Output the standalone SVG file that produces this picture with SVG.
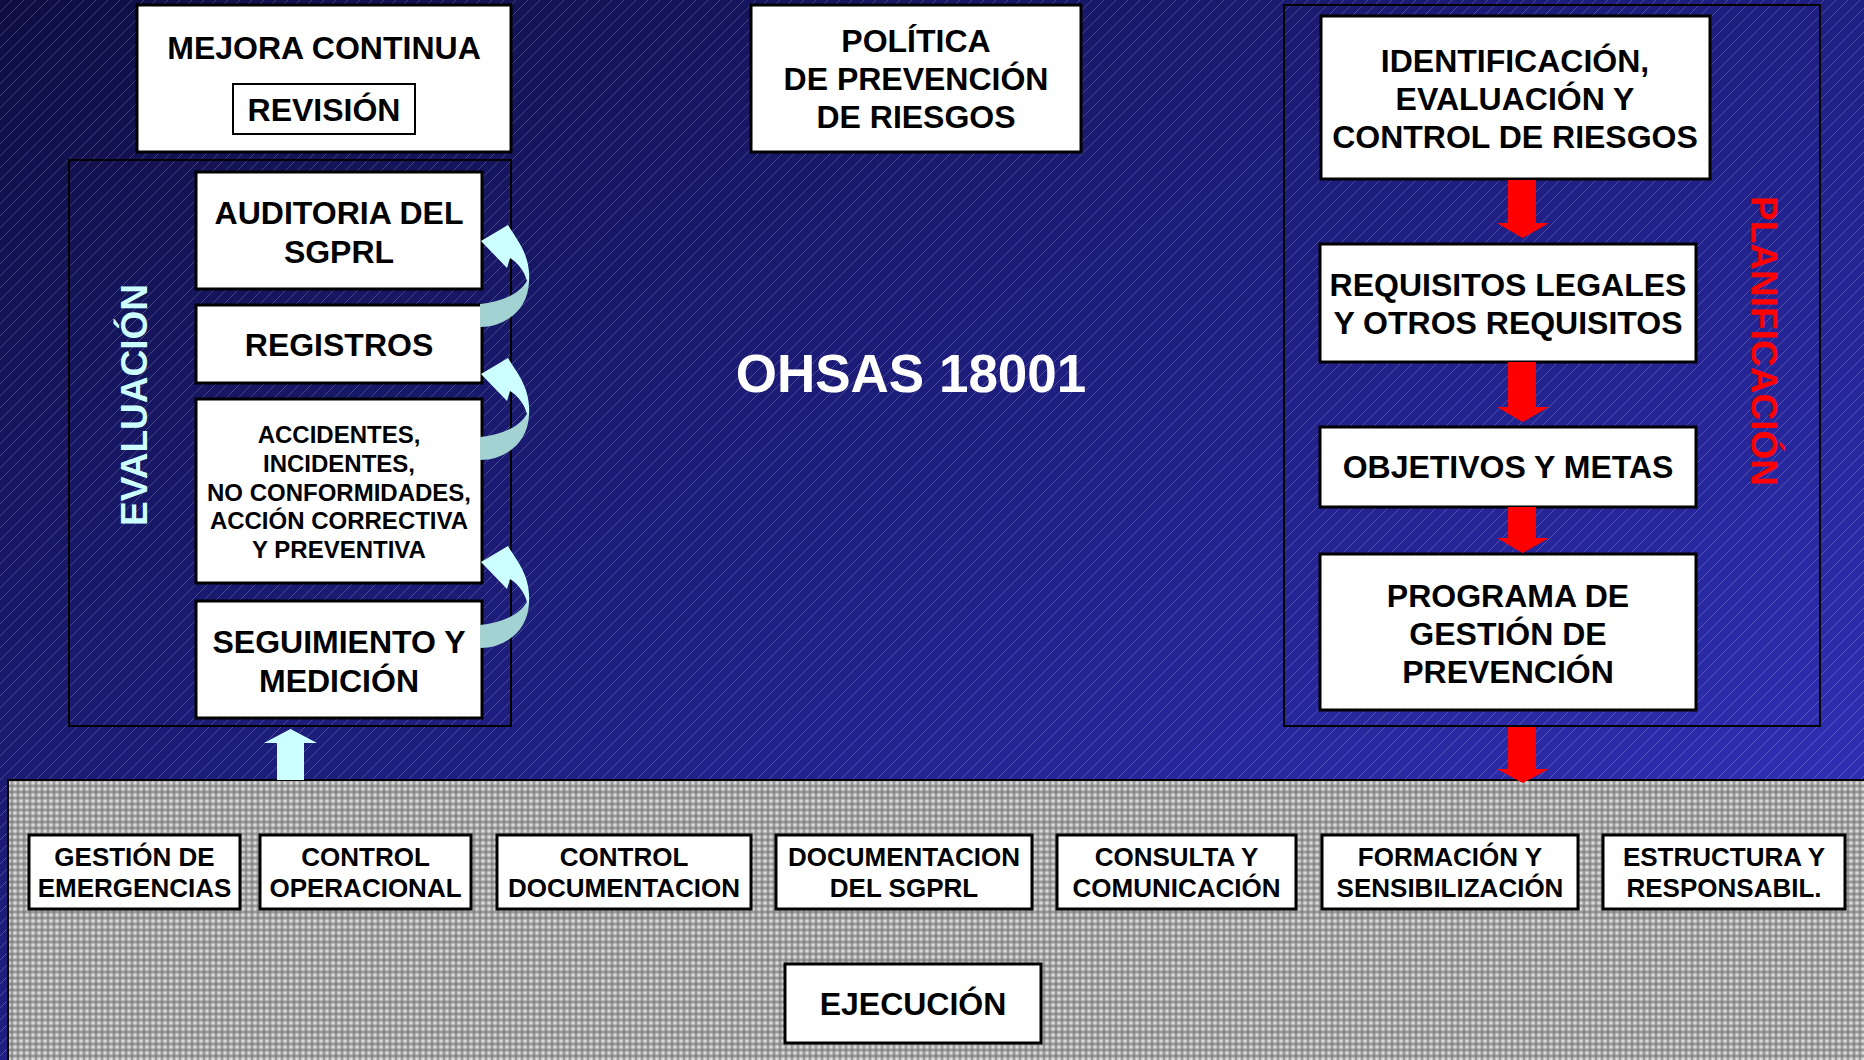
<svg xmlns="http://www.w3.org/2000/svg" width="1864" height="1060" viewBox="0 0 1864 1060">
<defs>
<linearGradient id="bg" x1="0" y1="0" x2="1" y2="1">
<stop offset="0" stop-color="#0e0e44"/>
<stop offset="0.5" stop-color="#1f1f84"/>
<stop offset="1" stop-color="#3434c4"/>
</linearGradient>
<pattern id="hatch" patternUnits="userSpaceOnUse" width="12" height="12">
<path d="M-3,3 L3,-3 M0,12 L12,0 M9,15 L15,9" stroke="#ffffff" stroke-opacity="0.2" stroke-width="1"/>
</pattern>
<pattern id="grain" patternUnits="userSpaceOnUse" width="6" height="6">
<rect width="6" height="6" fill="#9a9a9a"/>
<circle cx="3" cy="3" r="1.8" fill="#dadada"/>
<circle cx="0" cy="0" r="1" fill="#727272"/>
<circle cx="6" cy="0" r="1" fill="#727272"/>
<circle cx="0" cy="6" r="1" fill="#727272"/>
<circle cx="6" cy="6" r="1" fill="#727272"/>
</pattern>
<linearGradient id="curv" x1="0" y1="0" x2="0" y2="1">
<stop offset="0.52" stop-color="#ccffff"/>
<stop offset="0.62" stop-color="#a2d2d2"/>
</linearGradient>
<path id="curvedArrow" d="M480 304 C498 302 518 296 527 281 C524 270 517 262 510 258 L507 268 L481 241 L508 225 C517 240 531 255 529 282 C528 310 505 327 480 327 Z" fill="url(#curv)"/>
<style>
.box{fill:#fff;stroke:#000;stroke-width:3}
.frame{fill:none;stroke:#000;stroke-width:2}
.t{font-family:"Liberation Sans",Arial,sans-serif;font-weight:bold;text-anchor:middle;fill:#000}
.t32{font-size:32px}
.t26{font-size:26px}
.t24{font-size:24px}
.red{fill:#ff0000}
</style>
</defs>
<rect x="0" y="0" width="1864" height="1060" fill="url(#bg)"/>
<rect x="0" y="0" width="1864" height="1060" fill="url(#hatch)"/>
<rect id="ejecucion-area" x="8" y="780" width="1870" height="290" fill="url(#grain)" stroke="#000" stroke-width="2"/>

<g id="mejora-continua">
<rect class="box" x="137" y="5" width="374" height="147"/>
<text class="t t32" x="324" y="59">MEJORA CONTINUA</text>
<rect x="233" y="84" width="182" height="50" fill="#fff" stroke="#000" stroke-width="2"/>
<text class="t t32" x="324" y="121">REVISIÓN</text>
</g>

<g id="evaluacion">
<rect class="frame" x="69" y="160" width="442" height="566"/>
<text class="t" x="0" y="0" transform="translate(147,405) rotate(-90)" style="font-size:37px;fill:#ccffff">EVALUACIÓN</text>
</g>
<g id="auditoria">
<rect class="box" x="196" y="172" width="286" height="117"/>
<text class="t t32" x="339" y="224">AUDITORIA DEL</text>
<text class="t t32" x="339" y="263">SGPRL</text>
</g>
<g id="registros">
<rect class="box" x="196" y="305" width="286" height="78"/>
<text class="t t32" x="339" y="356">REGISTROS</text>
</g>
<g id="accidentes">
<rect class="box" x="196" y="399" width="286" height="184"/>
<text class="t t24" x="339" y="443">ACCIDENTES,</text>
<text class="t t24" x="339" y="472">INCIDENTES,</text>
<text class="t t24" x="339" y="501">NO CONFORMIDADES,</text>
<text class="t t24" x="339" y="529">ACCIÓN CORRECTIVA</text>
<text class="t t24" x="339" y="558">Y PREVENTIVA</text>
</g>
<g id="seguimiento">
<rect class="box" x="196" y="601" width="286" height="117"/>
<text class="t t32" x="339" y="653">SEGUIMIENTO Y</text>
<text class="t t32" x="339" y="692">MEDICIÓN</text>
</g>

<g id="politica">
<rect class="box" x="751" y="5" width="330" height="147"/>
<text class="t t32" x="916" y="52">POLÍTICA</text>
<text class="t t32" x="916" y="90">DE PREVENCIÓN</text>
<text class="t t32" x="916" y="128">DE RIESGOS</text>
</g>
<g id="titulo">
<text class="t" x="911" y="392" style="font-size:53px;fill:#fff">OHSAS 18001</text>
</g>

<g id="planificacion">
<rect class="frame" x="1284" y="5" width="536" height="721"/>
<text class="t" x="0" y="0" transform="translate(1751,341) rotate(90)" style="font-size:37px;fill:#ff0000">PLANIFICACIÓN</text>
</g>
<g id="identificacion">
<rect class="box" x="1321" y="16" width="389" height="163"/>
<text class="t t32" x="1515" y="72">IDENTIFICACIÓN,</text>
<text class="t t32" x="1515" y="110">EVALUACIÓN Y</text>
<text class="t t32" x="1515" y="148">CONTROL DE RIESGOS</text>
</g>
<g id="requisitos">
<rect class="box" x="1320" y="244" width="376" height="118"/>
<text class="t t32" x="1508" y="296">REQUISITOS LEGALES</text>
<text class="t t32" x="1508" y="334">Y OTROS REQUISITOS</text>
</g>
<g id="objetivos">
<rect class="box" x="1320" y="427" width="376" height="80"/>
<text class="t t32" x="1508" y="478">OBJETIVOS Y METAS</text>
</g>
<g id="programa">
<rect class="box" x="1320" y="554" width="376" height="156"/>
<text class="t t32" x="1508" y="607">PROGRAMA DE</text>
<text class="t t32" x="1508" y="645">GESTIÓN DE</text>
<text class="t t32" x="1508" y="683">PREVENCIÓN</text>
</g>

<g id="gestion-emergencias">
<rect class="box" x="29" y="835" width="211" height="74"/>
<text class="t t26" x="134.5" y="866">GESTIÓN DE</text>
<text class="t t26" x="134.5" y="897">EMERGENCIAS</text>
</g>
<g id="control-operacional">
<rect class="box" x="260" y="835" width="211" height="74"/>
<text class="t t26" x="365.5" y="866">CONTROL</text>
<text class="t t26" x="365.5" y="897">OPERACIONAL</text>
</g>
<g id="control-documentacion">
<rect class="box" x="497" y="835" width="254" height="74"/>
<text class="t t26" x="624" y="866">CONTROL</text>
<text class="t t26" x="624" y="897">DOCUMENTACION</text>
</g>
<g id="documentacion-sgprl">
<rect class="box" x="776" y="835" width="256" height="74"/>
<text class="t t26" x="904" y="866">DOCUMENTACION</text>
<text class="t t26" x="904" y="897">DEL SGPRL</text>
</g>
<g id="consulta">
<rect class="box" x="1057" y="835" width="239" height="74"/>
<text class="t t26" x="1176.5" y="866">CONSULTA Y</text>
<text class="t t26" x="1176.5" y="897">COMUNICACIÓN</text>
</g>
<g id="formacion">
<rect class="box" x="1322" y="835" width="256" height="74"/>
<text class="t t26" x="1450" y="866">FORMACIÓN Y</text>
<text class="t t26" x="1450" y="897">SENSIBILIZACIÓN</text>
</g>
<g id="estructura">
<rect class="box" x="1603" y="835" width="242" height="74"/>
<text class="t t26" x="1724" y="866">ESTRUCTURA Y</text>
<text class="t t26" x="1724" y="897">RESPONSABIL.</text>
</g>
<g id="ejecucion">
<rect class="box" x="785" y="964" width="256" height="79"/>
<text class="t t32" x="913" y="1015">EJECUCIÓN</text>
</g>

<g id="connectors">
<use href="#curvedArrow"/>
<use href="#curvedArrow" transform="translate(0,133)"/>
<use href="#curvedArrow" transform="translate(0,321)"/>
<polygon points="277,780 277,743 264,743 290.5,729 317,743 304,743 304,780" fill="#ccffff"/>
<polygon class="red" points="1508,180 1536,180 1536,223 1549,223 1522.5,238 1497,223 1508,223"/>
<polygon class="red" points="1508,362 1536,362 1536,407 1549,407 1522.5,422 1497,407 1508,407"/>
<polygon class="red" points="1508,507 1536,507 1536,538 1549,538 1522.5,553 1497,538 1508,538"/>
<polygon class="red" points="1508,727 1536,727 1536,769 1549,769 1522.5,783 1497,769 1508,769"/>
</g>
</svg>
